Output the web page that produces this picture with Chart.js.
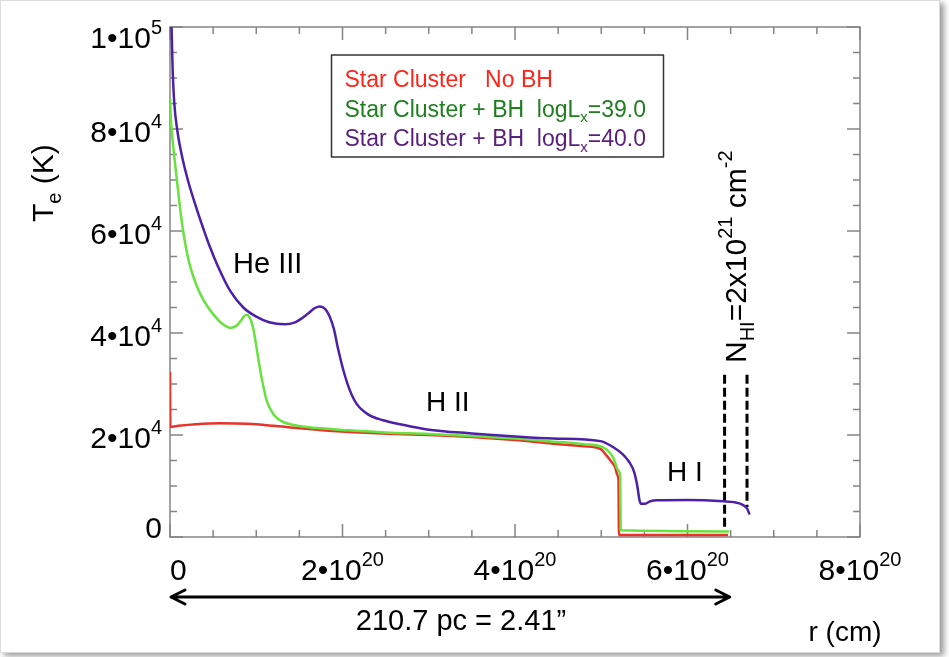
<!DOCTYPE html>
<html>
<head>
<meta charset="utf-8">
<script src="https://cdn.jsdelivr.net/npm/chart.js@4.4.1/dist/chart.umd.min.js"></script>
<style>
  html, body { margin: 0; padding: 0; background: #fff; }
  #card {
    position: absolute; left: 0; top: 0; width: 938px; height: 651px;
    background: #fff; border: 1px solid #dcdcdc;
    box-shadow: 4px 3px 6px rgba(0, 0, 0, 0.4);
  }
  #chart { position: absolute; left: 0; top: 0; }
</style>
</head>
<body>
<div id="card"></div>
<canvas id="chart" width="949" height="657"></canvas>
<script>
// radius r in units of 1e20 cm, electron temperature Te in K
const rNoBH = [0, 0.004, 0.1, 0.3, 0.58, 0.9, 1.2, 1.5, 1.8, 2.2, 2.6, 3.0, 3.5, 4.0, 4.44, 4.8, 4.99,
  5.06, 5.12, 5.16, 5.19, 5.2, 5.205, 6.47];
const tNoBH = [32400, 21600, 21800, 22100, 22300, 22200, 21800, 21300, 20900, 20500, 20200, 20000, 19600,
  19000, 18300, 17800, 17300, 16000, 14700, 13700, 12000, 11000, 400, 400];

const rBH39 = [0, 0.01, 0.02, 0.05, 0.08, 0.12, 0.15, 0.18, 0.23, 0.31, 0.39, 0.5, 0.6, 0.7, 0.77, 0.83,
  0.86, 0.89, 0.91, 0.94, 0.97, 1.0, 1.04, 1.08, 1.12, 1.18, 1.24, 1.32, 1.42, 1.55, 1.74, 2.0, 2.5, 3.0,
  3.5, 4.0, 4.44, 4.8, 5.04, 5.14, 5.2, 5.22, 5.225, 6.48];
const tBH39 = [86000, 82000, 79700, 74500, 70000, 64000, 60300, 57200, 53300, 49200, 46400, 43700, 41900,
  41000, 41400, 42600, 43300, 43600, 43400, 42400, 40500, 37500, 33300, 29700, 26800, 24600, 23300, 22500,
  22000, 21600, 21300, 21000, 20500, 20200, 19800, 19300, 18700, 18200, 17400, 15500, 13000, 11800, 1300,
  1100];

const rBH40 = [0.018, 0.03, 0.05, 0.085, 0.135, 0.21, 0.31, 0.39, 0.46, 0.55, 0.7, 0.85, 1.0, 1.15, 1.33,
  1.45, 1.53, 1.6, 1.68, 1.74, 1.8, 1.85, 1.9, 1.95, 2.01, 2.08, 2.16, 2.3, 2.47, 2.7, 2.98, 3.5, 4.0, 4.44,
  4.99, 5.14, 5.25, 5.32, 5.38, 5.42, 5.44, 5.46, 5.5, 5.57, 5.64, 6.0, 6.42, 6.55, 6.63, 6.69, 6.72];
const tBH40 = [100000, 92000, 85000, 79700, 75000, 69800, 64300, 60300, 57000, 53300, 48200, 45000, 43200,
  42100, 41700, 42100, 42900, 43800, 44900, 45200, 44700, 43300, 40800, 36800, 32700, 29000, 26200, 24000,
  22900, 22000, 21100, 20300, 19700, 19300, 18800, 17600, 16200, 14800, 12800, 9800, 7500, 6500, 6500,
  7000, 7200, 7250, 7000, 6800, 6400, 5600, 4400];

const seriesLabels = ['Star Cluster   No BH', 'Star Cluster + BH  logL_{x}=39.0', 'Star Cluster + BH  logL_{x}=40.0'];
const seriesColors = ['#e8322a', '#68e23e', '#4e1fa8'];
const seriesTextColors = ['#ff2418', '#1e7f1e', '#5a1e7c'];

// N_HI column-density markers (dashed verticals)
const markerR = [6.43, 6.69];
const markerTop = [31800, 31800];
const markerBottom = [1700, 5900];

// size bar under the axis
const barPc = 210.7;
const cmPerPc = 3.0857e18;

const xTickValues = [0, 2, 4, 6, 8];
const xTickLabels = ['0', '2•10^{20}', '4•10^{20}', '6•10^{20}', '8•10^{20}'];
const xMinorStep = 0.5;
const yTickValues = [0, 20000, 40000, 60000, 80000, 100000];
const yTickLabels = ['0', '2•10^{4}', '4•10^{4}', '6•10^{4}', '8•10^{4}', '1•10^{5}'];
const yMinorStep = 5000;

const FONT = '"Liberation Sans", Arial, Helvetica, sans-serif';

// tiny markup: ^{..} superscript, _{..} subscript
function richParts(str) {
  const parts = [];
  const re = /([\^_])\{([^}]*)\}/g;
  let last = 0, m;
  while ((m = re.exec(str))) {
    if (m.index > last) parts.push({ text: str.slice(last, m.index), mode: 'base' });
    parts.push({ text: m[2], mode: m[1] === '^' ? 'sup' : 'sub' });
    last = re.lastIndex;
  }
  if (last < str.length) parts.push({ text: str.slice(last), mode: 'base' });
  return parts;
}

function partFont(mode, size) {
  return (mode === 'base' ? size : Math.round(size * 0.66)) + 'px ' + FONT;
}

function richWidth(ctx, str, size) {
  let w = 0;
  for (const p of richParts(str)) {
    ctx.font = partFont(p.mode, size);
    w += ctx.measureText(p.text).width;
  }
  return w;
}

function drawRich(ctx, str, x, y, size, align, color) {
  const w = richWidth(ctx, str, size);
  let cx = align === 'right' ? x - w : align === 'center' ? x - w / 2 : x;
  ctx.fillStyle = color || '#000';
  ctx.textAlign = 'left';
  ctx.textBaseline = 'alphabetic';
  for (const p of richParts(str)) {
    ctx.font = partFont(p.mode, size);
    const dy = p.mode === 'sup' ? -0.46 * size : p.mode === 'sub' ? 0.26 * size : 0;
    ctx.fillText(p.text, cx, y + dy);
    cx += ctx.measureText(p.text).width;
  }
  return w;
}

function toPoints(rs, ts) {
  return rs.map((r, i) => ({ x: r, y: ts[i] }));
}

const isMajor = (v, list) => list.some((t) => Math.abs(t - v) < 1e-6);

const framePlugin = {
  id: 'frame',
  beforeDatasetsDraw(chart) {
    const { ctx, chartArea: a, scales: { x, y } } = chart;
    ctx.save();
    ctx.strokeStyle = '#858585';
    ctx.lineWidth = 1.5;
    ctx.strokeRect(a.left, a.top, a.right - a.left, a.bottom - a.top);
    ctx.beginPath();
    for (let v = x.min; v <= x.max + 1e-9; v += xMinorStep) {
      const px = x.getPixelForValue(v);
      const len = isMajor(v, xTickValues) ? 13 : 7;
      ctx.moveTo(px, a.bottom); ctx.lineTo(px, a.bottom - len);
      ctx.moveTo(px, a.top); ctx.lineTo(px, a.top + len);
    }
    for (let v = y.min; v <= y.max + 1e-9; v += yMinorStep) {
      const py = y.getPixelForValue(v);
      const len = isMajor(v, yTickValues) ? 13 : 7;
      ctx.moveTo(a.left, py); ctx.lineTo(a.left + len, py);
      ctx.moveTo(a.right, py); ctx.lineTo(a.right - len, py);
    }
    ctx.stroke();
    ctx.restore();
  },
  afterDraw(chart) {
    const { ctx, chartArea: a, scales: { x, y } } = chart;
    ctx.save();

    // tick labels
    yTickValues.forEach((v, i) => {
      const py = y.getPixelForValue(v);
      const mid = Math.min(Math.max(py + 2, a.top + 10), a.bottom - 10);
      drawRich(ctx, yTickLabels[i], a.left - 8, mid + 10.7, 30, 'right');
    });
    xTickValues.forEach((v, i) => {
      const px = x.getPixelForValue(v);
      const w = richWidth(ctx, xTickLabels[i], 30);
      drawRich(ctx, xTickLabels[i], Math.max(px - w / 2, a.left), a.bottom + 43, 30, 'left');
    });

    // axis titles
    ctx.save();
    ctx.translate(53, 222);
    ctx.rotate(-Math.PI / 2);
    drawRich(ctx, 'T_{e} (K)', 0, 0, 30, 'left');
    ctx.restore();
    drawRich(ctx, 'r (cm)', 845, a.bottom + 104, 28, 'center');

    // ionisation zone labels
    drawRich(ctx, 'He III', 233, 273, 29, 'left');
    drawRich(ctx, 'H II', 426, 411, 28, 'left');
    drawRich(ctx, 'H I', 667, 481, 28, 'left');

    // column density label beside the markers
    ctx.save();
    ctx.translate(746, 363);
    ctx.rotate(-Math.PI / 2);
    drawRich(ctx, 'N_{HI}=2x10^{21} cm^{-2}', 0, 0, 30, 'left');
    ctx.restore();

    // double arrow for the physical size
    const barR = barPc * cmPerPc / 1e20;
    const x0 = x.getPixelForValue(0);
    const x1 = x.getPixelForValue(barR);
    const ay = a.bottom + 60;
    ctx.strokeStyle = '#000';
    ctx.lineWidth = 3;
    ctx.lineCap = 'round';
    ctx.lineJoin = 'round';
    ctx.beginPath();
    ctx.moveTo(x0 + 1, ay); ctx.lineTo(x1 - 1, ay);
    ctx.moveTo(x0 + 15, ay - 7); ctx.lineTo(x0 + 1, ay); ctx.lineTo(x0 + 15, ay + 7);
    ctx.moveTo(x1 - 15, ay - 7); ctx.lineTo(x1 - 1, ay); ctx.lineTo(x1 - 15, ay + 7);
    ctx.stroke();
    drawRich(ctx, barPc.toFixed(1) + ' pc = 2.41\u201d', 461, a.bottom + 93, 29, 'center');

    // legend box
    const lx = 331.5, ly = 55, lw = 332, lh = 102;
    ctx.fillStyle = '#fff';
    ctx.fillRect(lx, ly, lw, lh);
    ctx.strokeStyle = '#333';
    ctx.lineWidth = 1.5;
    ctx.strokeRect(lx, ly, lw, lh);
    chart.data.datasets.filter((d) => d.inLegend).forEach((d, i) => {
      drawRich(ctx, d.label, lx + 13, ly + 32 + i * 29.5, 23, 'left', d.textColor);
    });

    ctx.restore();
  },
};

const curveStyle = {
  showLine: true,
  pointRadius: 0,
  borderWidth: 2.5,
  cubicInterpolationMode: 'monotone',
  inLegend: true,
};

// higher order is drawn underneath: red first, purple on top
const datasets = [
  { ...curveStyle, label: seriesLabels[0], data: toPoints(rNoBH, tNoBH), borderColor: seriesColors[0], textColor: seriesTextColors[0], order: 3 },
  { ...curveStyle, label: seriesLabels[1], data: toPoints(rBH39, tBH39), borderColor: seriesColors[1], textColor: seriesTextColors[1], order: 2 },
  { ...curveStyle, label: seriesLabels[2], data: toPoints(rBH40, tBH40), borderColor: seriesColors[2], textColor: seriesTextColors[2], order: 1 },
];
markerR.forEach((r, i) => {
  datasets.push({
    label: 'N_HI marker ' + (i + 1),
    data: [{ x: r, y: markerTop[i] }, { x: r, y: markerBottom[i] }],
    showLine: true,
    pointRadius: 0,
    borderColor: '#000',
    borderWidth: 3,
    borderDash: [9, 4],
    tension: 0,
    order: 4,
  });
});

new Chart(document.getElementById('chart'), {
  type: 'scatter',
  data: { datasets },
  options: {
    responsive: false,
    animation: false,
    devicePixelRatio: 1,
    layout: { padding: { left: 170, top: 27, right: 89, bottom: 120 } },
    scales: {
      x: { type: 'linear', min: 0, max: 8, display: false },
      y: { type: 'linear', min: 0, max: 100000, display: false },
    },
    plugins: { legend: { display: false }, tooltip: { enabled: false } },
  },
  plugins: [framePlugin],
});
</script>
</body>
</html>
